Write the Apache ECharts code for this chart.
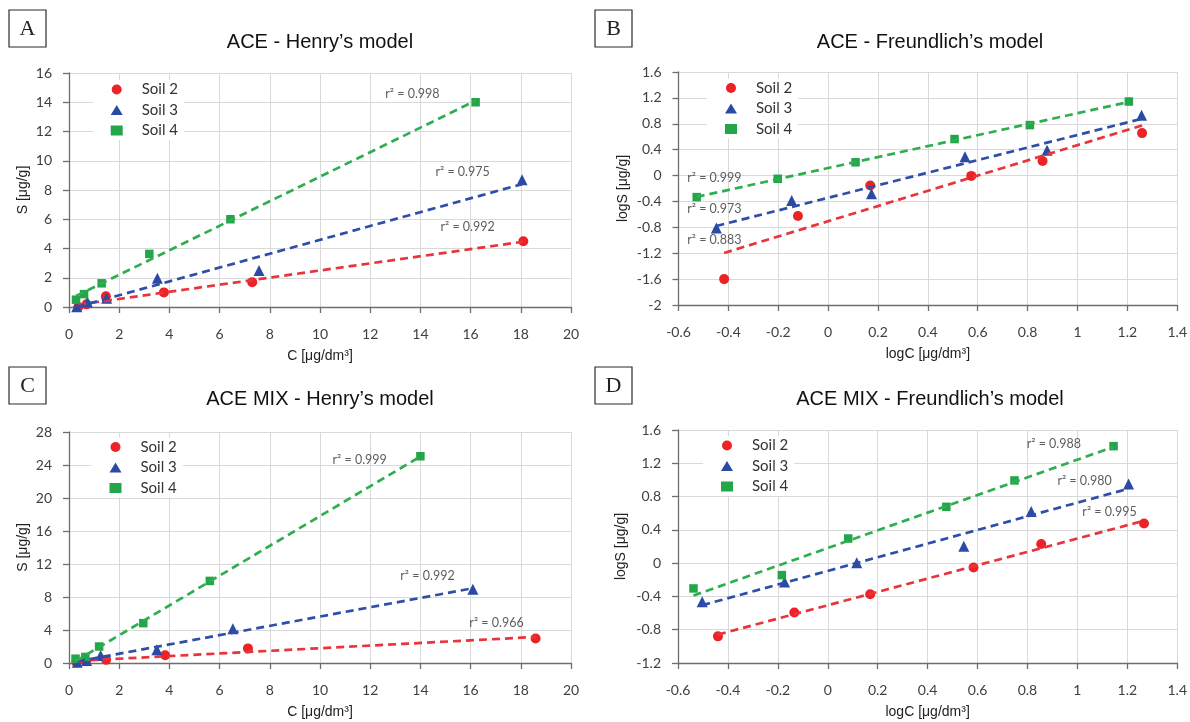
<!DOCTYPE html>
<html>
<head>
<meta charset="utf-8">
<script src="https://cdn.jsdelivr.net/npm/echarts@6/dist/echarts.min.js"></script>
<style>
  html, body { margin: 0; padding: 0; background: #ffffff; }
  #chart { width: 1190px; height: 722px; }
</style>
</head>
<body>
<div id="chart"></div>
<script>
// ---- data -------------------------------------------------------------
const soilNames = ['Soil 2', 'Soil 3', 'Soil 4'];

// ACE - Henry's model: [C (µg/dm3), S (µg/g)]
const aceHenrySoil2 = [[0.37, 0.0], [0.70, 0.18], [1.47, 0.73], [3.78, 1.0], [7.3, 1.7], [18.1, 4.5]];
const aceHenrySoil3 = [[0.31, 0.02], [0.73, 0.35], [1.5, 0.6], [3.52, 1.97], [7.57, 2.5], [18.05, 8.7]];
const aceHenrySoil4 = [[0.28, 0.5], [0.6, 0.88], [1.3, 1.62], [3.2, 3.63], [6.43, 6.0], [16.2, 14.0]];
const aceHenryR2 = ['0.992', '0.975', '0.998'];

// ACE - Freundlich's model: [logC, logS]
const aceFreundSoil2 = [[-0.417, -1.6], [-0.121, -0.626], [0.169, -0.154], [0.574, -0.005], [0.86, 0.226], [1.259, 0.656]];
const aceFreundSoil3 = [[-0.448, -0.81], [-0.146, -0.385], [0.174, -0.28], [0.549, 0.29], [0.878, 0.39], [1.257, 0.93]];
const aceFreundSoil4 = [[-0.527, -0.333], [-0.202, -0.05], [0.11, 0.205], [0.507, 0.564], [0.809, 0.78], [1.206, 1.144]];
const aceFreundR2 = ['0.883', '0.973', '0.999'];

// ACE MIX - Henry's model: [C, S]
const mixHenrySoil2 = [[0.3, 0.05], [0.68, 0.2], [1.48, 0.38], [3.83, 0.93], [7.13, 1.77], [18.59, 2.98]];
const mixHenrySoil3 = [[0.33, 0.08], [0.7, 0.3], [1.26, 0.92], [3.5, 1.6], [6.53, 4.15], [16.09, 8.94]];
const mixHenrySoil4 = [[0.26, 0.52], [0.65, 0.73], [1.2, 2.0], [2.96, 4.83], [5.61, 9.95], [14.0, 25.06]];
const mixHenryR2 = ['0.966', '0.992', '0.999'];

// ACE MIX - Freundlich's model: [logC, logS]
const mixFreundSoil2 = [[-0.44, -0.88], [-0.134, -0.593], [0.17, -0.373], [0.584, -0.052], [0.855, 0.23], [1.267, 0.477]];
const mixFreundSoil3 = [[-0.503, -0.465], [-0.173, -0.228], [0.116, 0.004], [0.545, 0.204], [0.815, 0.62], [1.205, 0.95]];
const mixFreundSoil4 = [[-0.538, -0.304], [-0.184, -0.144], [0.082, 0.296], [0.475, 0.677], [0.748, 0.994], [1.145, 1.406]];
const mixFreundR2 = ['0.995', '0.980', '0.988'];

// axis ranges: [min, max, interval]
const henryXTicks = [0, 20, 2];
const aceHenryYTicks = [0, 16, 2];
const mixHenryYTicks = [0, 28, 4];
const freundXTicks = [-0.6, 1.4, 0.2];
const aceFreundYTicks = [-2, 1.6, 0.4];
const mixFreundYTicks = [-1.2, 1.6, 0.4];

// ---- styling / layout -------------------------------------------------
const markerColors = ['#ec2227', '#2b4aa6', '#23a64a'];
const lineColors = ['#e8343a', '#2f4ea8', '#2eae4e'];
const markerShapes = ['circle', 'triangle', 'rect'];
const markerSizes = [10, 11, 8.5];

const panels = [
  {
    letter: 'A', title: 'ACE - Henry\u2019s model',
    grid: { left: 69, top: 73, width: 502, height: 234 },
    xName: 'C [\u03bcg/dm\u00b3]', yName: 'S [\u03bcg/g]', yNameGap: 39,
    xTicks: henryXTicks, yTicks: aceHenryYTicks,
    soils: [aceHenrySoil2, aceHenrySoil3, aceHenrySoil4], r2: aceHenryR2,
    r2Anchor: [[14.8, 5.45], [14.6, 9.2], [12.6, 14.6]],
    legend: { cx: 116.7, top: 80 }, titlePos: [320, 42], box: [9, 10]
  },
  {
    letter: 'B', title: 'ACE - Freundlich\u2019s model',
    grid: { left: 678.5, top: 72, width: 502.5, height: 233 },
    xName: 'logC [\u03bcg/dm\u00b3]', yName: 'logS [\u03bcg/g]', yNameGap: 48,
    xTicks: freundXTicks, yTicks: aceFreundYTicks,
    soils: [aceFreundSoil2, aceFreundSoil3, aceFreundSoil4], r2: aceFreundR2,
    r2Anchor: [[-0.565, -0.99], [-0.565, -0.52], [-0.565, -0.04]],
    legend: { cx: 731, top: 78.5 }, titlePos: [930, 42], box: [595, 10]
  },
  {
    letter: 'C', title: 'ACE MIX - Henry\u2019s model',
    grid: { left: 69, top: 432, width: 502, height: 231 },
    xName: 'C [\u03bcg/dm\u00b3]', yName: 'S [\u03bcg/g]', yNameGap: 39,
    xTicks: henryXTicks, yTicks: mixHenryYTicks,
    soils: [mixHenrySoil2, mixHenrySoil3, mixHenrySoil4], r2: mixHenryR2,
    r2Anchor: [[15.95, 4.8], [13.2, 10.5], [10.5, 24.6]],
    legend: { cx: 115.5, top: 437.5 }, titlePos: [320, 399], box: [9, 367]
  },
  {
    letter: 'D', title: 'ACE MIX - Freundlich\u2019s model',
    grid: { left: 678, top: 430, width: 503, height: 233 },
    xName: 'logC [\u03bcg/dm\u00b3]', yName: 'logS [\u03bcg/g]', yNameGap: 50,
    xTicks: freundXTicks, yTicks: mixFreundYTicks,
    soils: [mixFreundSoil2, mixFreundSoil3, mixFreundSoil4], r2: mixFreundR2,
    r2Anchor: [[1.02, 0.62], [0.92, 0.99], [0.797, 1.43]],
    legend: { cx: 727, top: 436 }, titlePos: [930, 399], box: [595, 367]
  }
];

// least-squares trend line over the x range of the points
function trendLine(points) {
  const n = points.length;
  let mx = 0, my = 0;
  points.forEach(p => { mx += p[0]; my += p[1]; });
  mx /= n; my /= n;
  let sxy = 0, sxx = 0;
  points.forEach(p => { sxy += (p[0] - mx) * (p[1] - my); sxx += (p[0] - mx) * (p[0] - mx); });
  const slope = sxy / sxx;
  const xs = points.map(p => p[0]);
  const x0 = Math.min.apply(null, xs), x1 = Math.max.apply(null, xs);
  return [[x0, my + slope * (x0 - mx)], [x1, my + slope * (x1 - mx)]];
}

const tickFmt = v => String(+(+v).toFixed(1));

const LEGEND_ICON_W = 12;
const LEGEND_PAD_LEFT = 18;

const grids = [], xAxes = [], yAxes = [], legends = [], series = [], graphics = [];

panels.forEach((p, i) => {
  grids.push(Object.assign({ containLabel: false }, p.grid));

  xAxes.push({
    type: 'value', gridIndex: i,
    min: p.xTicks[0], max: p.xTicks[1], interval: p.xTicks[2],
    name: p.xName, nameLocation: 'middle', nameGap: 42,
    nameTextStyle: { fontFamily: 'Liberation Sans', fontSize: 14, color: '#222' },
    axisLine: { onZero: false, lineStyle: { color: '#6e6e6e', width: 1.3 } },
    axisTick: { show: true, inside: false, length: 6, lineStyle: { color: '#6e6e6e', width: 1.3 } },
    axisLabel: { margin: 20, fontFamily: 'Lato', fontSize: 14, color: '#404040', formatter: tickFmt },
    splitLine: { show: true, lineStyle: { color: '#d9d9d9', width: 1 } }
  });

  yAxes.push({
    type: 'value', gridIndex: i,
    min: p.yTicks[0], max: p.yTicks[1], interval: p.yTicks[2],
    name: p.yName, nameLocation: 'middle', nameGap: p.yNameGap,
    nameTextStyle: { fontFamily: 'Liberation Sans', fontSize: 14, color: '#222' },
    axisLine: { show: true, onZero: false, lineStyle: { color: '#6e6e6e', width: 1.3 } },
    axisTick: { show: true, inside: false, length: 6, lineStyle: { color: '#6e6e6e', width: 1.3 } },
    axisLabel: { margin: 17, fontFamily: 'Lato', fontSize: 14, color: '#404040', formatter: tickFmt },
    splitLine: { show: true, lineStyle: { color: '#d9d9d9', width: 1 } }
  });

  legends.push({
    orient: 'vertical',
    left: p.legend.cx - LEGEND_ICON_W / 2 - LEGEND_PAD_LEFT, top: p.legend.top,
    data: soilNames, selectedMode: false,
    itemWidth: LEGEND_ICON_W, itemHeight: 10, itemGap: 5.5,
    symbolKeepAspect: true,
    padding: [2, 6, 2, LEGEND_PAD_LEFT], backgroundColor: '#ffffff',
    textStyle: { fontFamily: 'Lato', fontSize: 15, color: '#333', lineHeight: 15,
                 padding: [0, 0, 0, 14] }
  });

  // measured points
  p.soils.forEach((pts, k) => {
    series.push({
      type: 'scatter', name: soilNames[k], xAxisIndex: i, yAxisIndex: i,
      symbol: markerShapes[k], symbolSize: markerSizes[k], symbolKeepAspect: true,
      itemStyle: { color: markerColors[k], opacity: 1 },
      data: pts, z: 2, silent: true
    });
  });

  // fitted lines
  p.soils.forEach((pts, k) => {
    series.push({
      type: 'line', name: soilNames[k] + ' fit', xAxisIndex: i, yAxisIndex: i,
      data: trendLine(pts), showSymbol: false, symbol: 'none',
      lineStyle: { color: lineColors[k], width: 2.7, type: [8, 5] },
      z: 3, silent: true
    });
  });

  // r² annotations
  series.push({
    type: 'scatter', name: 'r2-' + p.letter, xAxisIndex: i, yAxisIndex: i,
    symbolSize: 0, silent: true, z: 4,
    data: p.r2.map((r, k) => ({ value: p.r2Anchor[k], r2: r })),
    label: {
      show: true, position: 'right', distance: 0,
      fontFamily: 'Lato', fontSize: 12.5, color: '#333',
      formatter: d => 'r\u00b2 = ' + d.data.r2
    }
  });

  // panel letter box
  graphics.push({
    type: 'group', x: p.box[0], y: p.box[1],
    children: [
      { type: 'rect', shape: { x: 0, y: 0, width: 37, height: 37 },
        style: { fill: '#ffffff', stroke: '#2b2b2b', lineWidth: 1.2 } },
      { type: 'text', x: 18.5, y: 19,
        style: { text: p.letter, font: '22px "Liberation Serif"', fill: '#222',
                 textAlign: 'center', textVerticalAlign: 'middle' } }
    ]
  });

  // panel title
  graphics.push({
    type: 'text', x: p.titlePos[0], y: p.titlePos[1],
    style: { text: p.title, font: '20px "Liberation Sans"', fill: '#111',
             textAlign: 'center', textVerticalAlign: 'middle' }
  });
});

const chart = echarts.init(document.getElementById('chart'), null, { renderer: 'canvas' });
chart.setOption({
  animation: false,
  backgroundColor: '#ffffff',
  grid: grids,
  xAxis: xAxes,
  yAxis: yAxes,
  legend: legends,
  series: series,
  graphic: graphics
});
</script>
</body>
</html>
